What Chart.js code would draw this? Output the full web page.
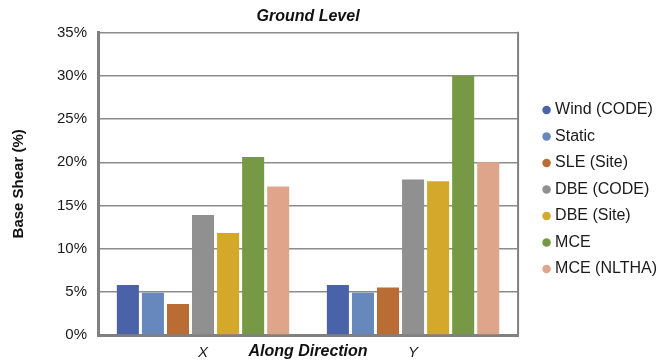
<!DOCTYPE html>
<html lang="en">
<head>
    <meta charset="UTF-8">
    <title>Ground Level</title>
    <script src="https://cdn.jsdelivr.net/npm/chart.js"></script>
    <style>
        body { margin: 0; background: #fff; }
        .chart-container { width: 658px; height: 361px; }
    </style>
</head>
<body>
    <div class="chart-container">
        <canvas id="shearChart"></canvas>
    </div>

    <script>
        // data (base shear in %)
        var directions = ['X', 'Y'];
        var seriesNames = ['Wind (CODE)', 'Static', 'SLE (Site)', 'DBE (CODE)', 'DBE (Site)', 'MCE', 'MCE (NLTHA)'];
        var windCode = [5.8, 5.8];
        var staticShear = [4.9, 4.9];
        var sleSite = [3.6, 5.5];
        var dbeCode = [13.9, 18.0];
        var dbeSite = [11.8, 17.8];
        var mce = [20.6, 30.0];
        var mceNltha = [17.2, 20.0];
        var seriesColors = ['#4a62a8', '#6688bd', '#b96c33', '#909090', '#d4a82a', '#779945', '#dfa58b'];

        var seriesValues = [windCode, staticShear, sleSite, dbeCode, dbeSite, mce, mceNltha];

        var datasets = seriesNames.map(function (name, i) {
            return {
                label: name,
                data: seriesValues[i],
                backgroundColor: seriesColors[i],
                borderWidth: 0,
                categoryPercentage: 0.835,
                barPercentage: 0.88
            };
        });

        // right side of the plot frame
        var frameBorder = {
            id: 'frameBorder',
            afterDraw: function (chart) {
                var a = chart.chartArea;
                var c = chart.ctx;
                c.save();
                c.strokeStyle = '#808080';
                c.lineWidth = 2;
                c.beginPath();
                c.moveTo(a.right, a.top - 1);
                c.lineTo(a.right, a.bottom);
                c.stroke();
                c.restore();
            }
        };

        Chart.defaults.font.family = '"Liberation Sans", Arial, sans-serif';
        Chart.defaults.color = '#1a1a1a';

        var ctx = document.getElementById('shearChart').getContext('2d');
        var shearChart = new Chart(ctx, {
            type: 'bar',
            data: {
                labels: directions,
                datasets: datasets
            },
            options: {
                responsive: true,
                maintainAspectRatio: false,
                animation: false,
                layout: {
                    padding: { left: 4, right: -9, top: 0, bottom: 0 }
                },
                plugins: {
                    title: {
                        display: true,
                        fullSize: false,
                        text: 'Ground Level',
                        font: { size: 16, weight: 'bold', style: 'italic' },
                        color: '#111',
                        padding: { top: 7, bottom: 6.5 }
                    },
                    legend: {
                        position: 'right',
                        title: {
                            display: true,
                            text: '',
                            font: { size: 10 },
                            padding: 3
                        },
                        labels: {
                            usePointStyle: true,
                            pointStyle: 'circle',
                            boxWidth: 1,
                            boxHeight: 6,
                            padding: 10.5,
                            font: { size: 16 },
                            color: '#1a1a1a'
                        }
                    },
                    tooltip: { enabled: false }
                },
                scales: {
                    x: {
                        grid: { display: false, drawTicks: false },
                        border: { display: true, color: '#808080', width: 3 },
                        ticks: {
                            font: { size: 15, style: 'italic' },
                            padding: 9
                        },
                        title: {
                            display: true,
                            text: 'Along Direction',
                            font: { size: 16, weight: 'bold', style: 'italic' },
                            color: '#111',
                            padding: { top: -29.2, bottom: 0 }
                        }
                    },
                    y: {
                        min: 0,
                        max: 35,
                        ticks: {
                            stepSize: 5,
                            font: { size: 15 },
                            padding: 11,
                            callback: function (value) { return value + '%'; }
                        },
                        grid: { color: '#8c8c8c', lineWidth: 1.5, drawTicks: false },
                        border: { display: true, color: '#808080', width: 3 },
                        title: {
                            display: true,
                            text: 'Base Shear (%)',
                            font: { size: 15, weight: 'bold' },
                            color: '#111',
                            padding: { top: 6, bottom: 18 }
                        }
                    },
                    // hidden spacer between the plot and the legend
                    gap: {
                        display: false,
                        position: 'right',
                        min: 0,
                        max: 35,
                        afterFit: function (scale) { scale.width = 17.5; }
                    }
                }
            },
            plugins: [frameBorder]
        });
    </script>
</body>
</html>
